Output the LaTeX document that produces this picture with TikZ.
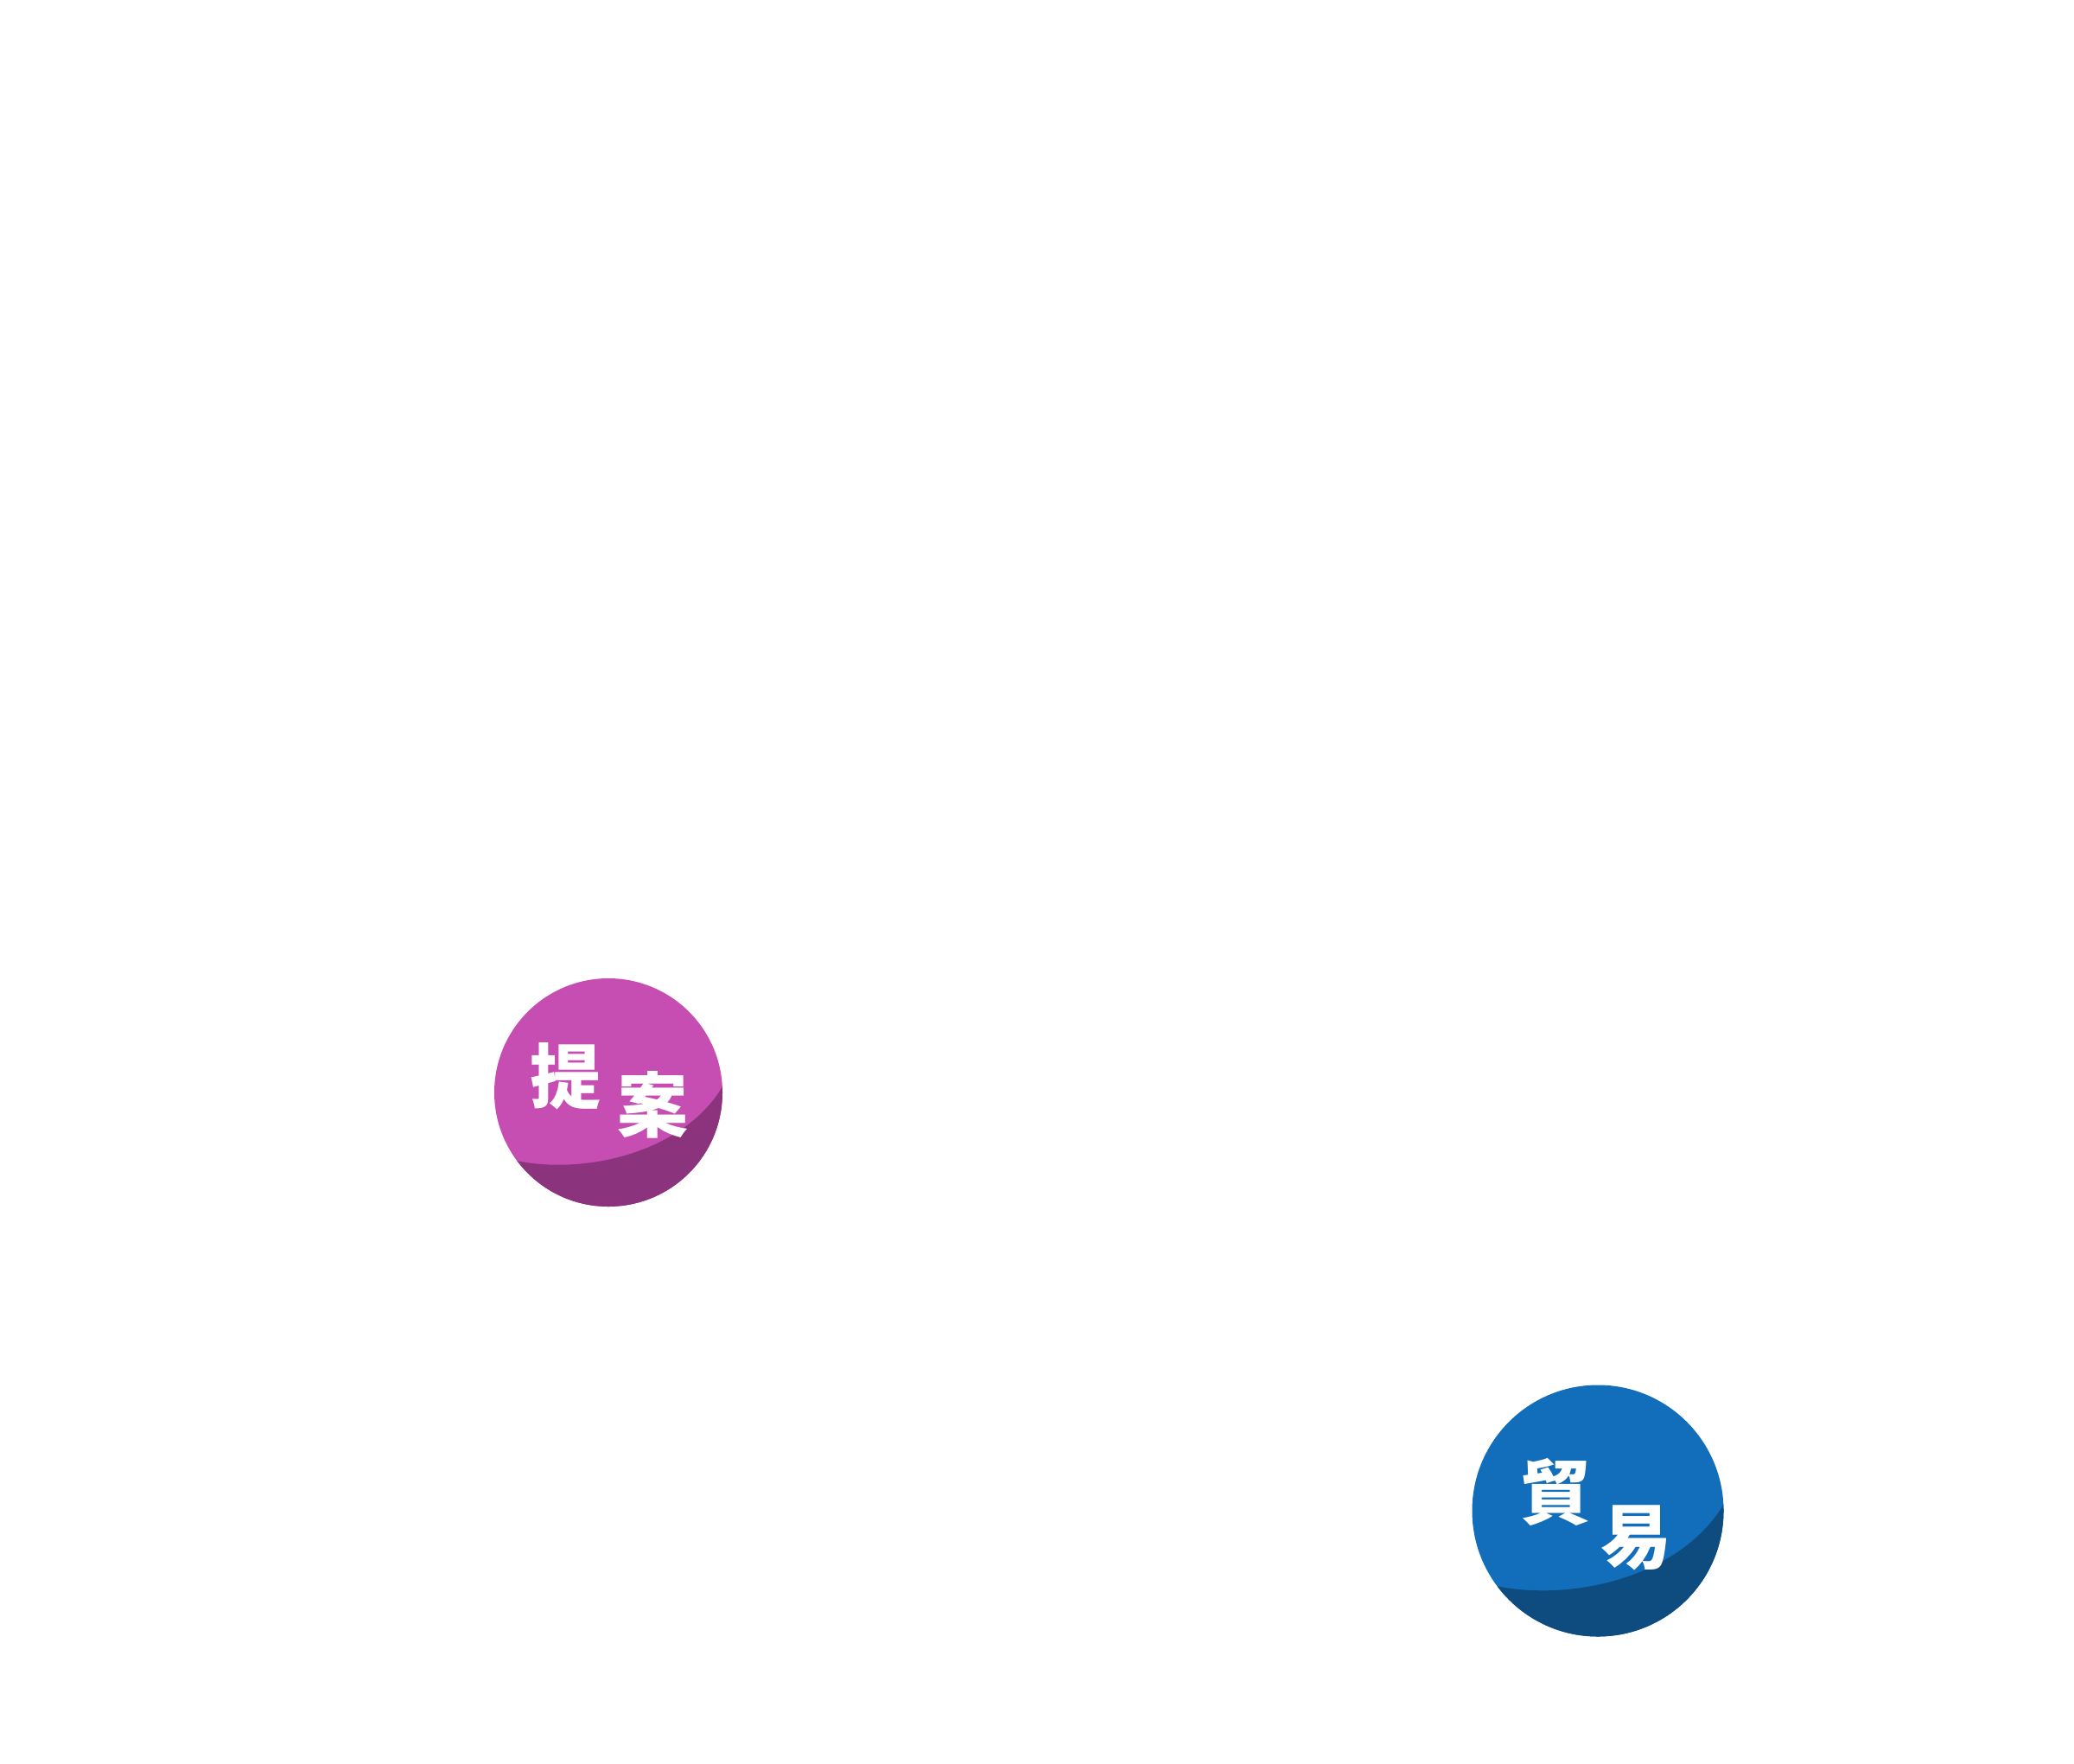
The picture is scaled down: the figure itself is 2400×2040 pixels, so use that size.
\documentclass[tikz,border=0pt]{standalone}
\usepackage{fontspec}
\newfontfamily\cjk{Noto Sans CJK JP}
\definecolor{pinkball}{RGB}{198,77,177}
\definecolor{pinkshade}{RGB}{139,52,125}
\definecolor{blueball}{RGB}{18,110,186}
\definecolor{blueshade}{RGB}{14,76,128}
\begin{document}
\begin{tikzpicture}[x=1pt,y=-1pt]
\tikzset{
  ball/.style={circle, inner sep=0pt, draw=none},
  glyph/.style={text=white, inner sep=0pt, font=\cjk\bfseries\fontsize{82}{82}\selectfont},
  shade/.style={insert path={(-0.8,0.6) .. controls (-0.2,0.72) and (0.65,0.53) .. (1.0,-0.05) -- (1.3,-0.05) -- (1.3,1.3) -- (-1.3,1.3) -- (-1.3,0.6) -- cycle}}
}
\fill[white] (0,0) rectangle (2400,2040);
\useasboundingbox (0,0) rectangle (2400,2040);
% pink ball
\node[ball, fill=pinkball, minimum size=264pt] (p) at (704,1264) {};
\begin{scope}
  \clip (p.center) circle [radius=132pt];
  \fill[pinkshade, shift={(p.center)}, scale=132, shade];
\end{scope}
\node[glyph] (p1) at (654,1245) {提};
\node[glyph] (p2) at (755,1278) {案};
% blue ball
\node[ball, fill=blueball, minimum size=291pt] (b) at (1849,1748) {};
\begin{scope}
  \clip (b.center) circle [radius=145.5pt];
  \fill[blueshade, shift={(b.center)}, scale=145.5, shade];
\end{scope}
\node[glyph] (b1) at (1800,1726) {貿};
\node[glyph] (b2) at (1893,1779) {易};
\end{tikzpicture}
\end{document}
